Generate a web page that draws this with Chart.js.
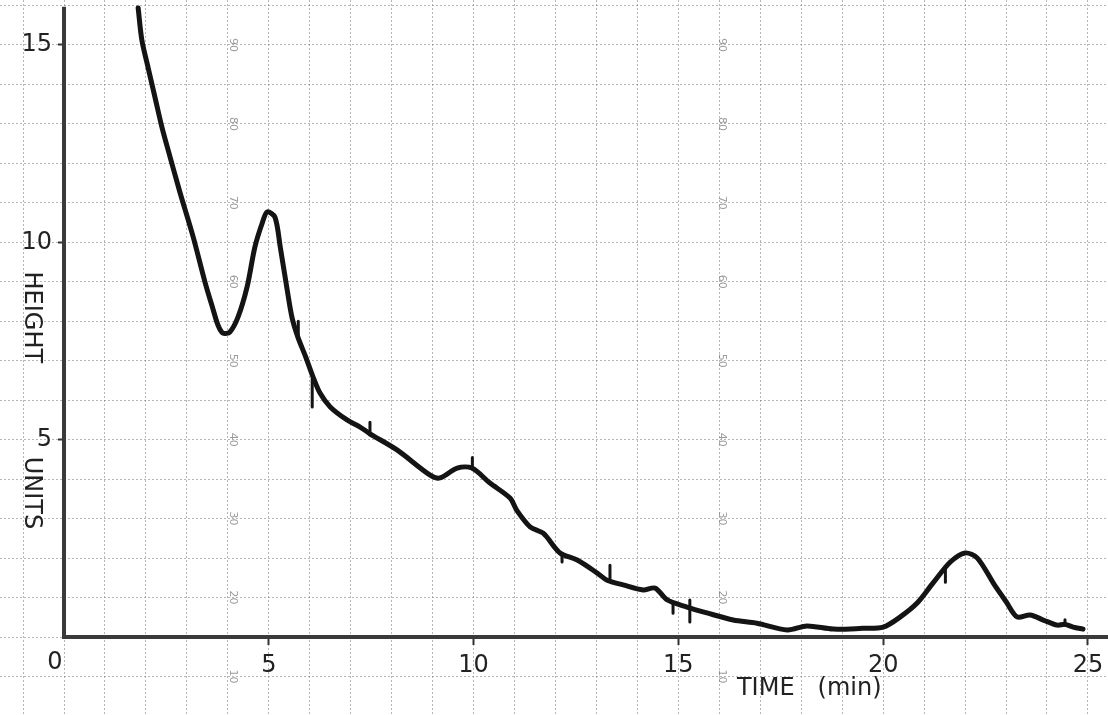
<!DOCTYPE html>
<html><head><meta charset="utf-8">
<script src="https://cdn.jsdelivr.net/npm/chart.js@4.4.1/dist/chart.umd.min.js"></script>
<style>html,body{margin:0;padding:0;background:#fff;overflow:hidden}</style>
</head><body>
<canvas id="c" width="1108" height="715"></canvas>
<script>
// ---- data ----
const timeMin = [1.81,1.90,2.05,2.22,2.39,2.59,2.83,3.15,3.44,3.64,3.76,3.88,4.05,4.25,4.47,4.66,4.84,4.96,5.15,5.28,5.45,5.57,5.71,5.90,6.08,6.25,6.50,6.91,7.23,7.47,8.13,8.94,9.18,9.60,9.96,10.40,10.89,11.06,11.38,11.70,12.11,12.53,13.02,13.26,13.65,14.14,14.43,14.73,15.21,15.70,16.34,16.92,17.66,18.14,18.78,19.50,20.00,20.42,20.83,21.22,21.64,22.00,22.30,22.73,23.00,23.27,23.59,23.91,24.25,24.44,24.64,24.88];
const heightUnits = [15.94,15.13,14.44,13.68,12.92,12.16,11.27,10.15,9.00,8.30,7.90,7.70,7.73,8.11,8.87,9.88,10.49,10.77,10.64,9.88,8.79,8.08,7.60,7.10,6.59,6.18,5.83,5.50,5.32,5.15,4.74,4.10,4.03,4.28,4.28,3.90,3.52,3.20,2.79,2.63,2.13,1.95,1.62,1.44,1.32,1.19,1.24,0.94,0.76,0.61,0.43,0.35,0.18,0.28,0.20,0.22,0.25,0.51,0.86,1.37,1.90,2.13,2.00,1.30,0.90,0.51,0.56,0.43,0.30,0.32,0.25,0.20];
// short pen spikes on the trace: time, lower end, upper end
const spikeTime = [5.72,6.06,7.47,9.97,12.16,13.33,14.87,15.28,21.52,24.44];
const spikeLow  = [7.55,5.83,5.12,4.26,1.90,1.42,0.60,0.38,1.39,0.30];
const spikeHigh = [8.00,6.55,5.44,4.55,2.12,1.82,0.86,0.94,1.77,0.44];
const xTickValues = [0,5,10,15,20,25];
const xTickLabels = ['0','5','10','15','20','25'];
const yTickValues = [5,10,15];
const yTickLabels = ['5','10','15'];
const paperNumbers = ['90','80','70','60','50','40','30','20','10'];
const xTitleParts = ['TIME','(min)'];
const yTitleParts = ['HEIGHT','UNITS'];

// ---- styling ----
const INK = '#222222';
const TRACE = '#141414';
const GRID = 'rgba(110,110,110,0.5)';
const FONT = '"DejaVu Sans", sans-serif';

const points = timeMin.map((t,i)=>({x:t,y:heightUnits[i]}));
const spikes = [];
spikeTime.forEach((t,i)=>{ spikes.push({x:t,y:spikeLow[i]},{x:t,y:spikeHigh[i]},{x:t,y:null}); });

const paperPlugin = {
  id:'paper',
  beforeDraw(chart){
    const {ctx,width,height} = chart;
    ctx.save(); ctx.fillStyle='#ffffff'; ctx.fillRect(0,0,width,height); ctx.restore();
  },
  beforeDatasetsDraw(chart){
    const {ctx} = chart; const xs = chart.scales.x, ys = chart.scales.y;
    ctx.save();
    // faint printed numbers of the graph paper
    ctx.fillStyle='rgba(120,120,120,0.75)';
    ctx.font='11px '+FONT; ctx.textAlign='center'; ctx.textBaseline='middle';
    [4.13,16.07].forEach(col=>{
      paperNumbers.forEach((s,i)=>{
        const px = xs.getPixelForValue(col), py = ys.getPixelForValue(15-2*i);
        ctx.save(); ctx.translate(px,py); ctx.rotate(Math.PI/2); ctx.fillText(s,0,0); ctx.restore();
      });
    });
    // axis lines
    ctx.strokeStyle='#3a3a3a'; ctx.lineWidth=4; ctx.lineCap='butt';
    const x0 = xs.getPixelForValue(0), y0 = ys.getPixelForValue(0);
    ctx.beginPath();
    ctx.moveTo(x0, ys.getPixelForValue(15.97)); ctx.lineTo(x0, y0+2);
    ctx.moveTo(x0-2, y0); ctx.lineTo(chart.width, y0);
    ctx.stroke();
    ctx.restore();
  },
  afterDraw(chart){
    const {ctx} = chart; const xs = chart.scales.x, ys = chart.scales.y;
    ctx.save();
    ctx.fillStyle=INK; ctx.font='24px '+FONT; ctx.textBaseline='middle';
    // x title
    ctx.textAlign='left';
    ctx.fillText(xTitleParts[0], xs.getPixelForValue(16.43), ys.getPixelForValue(-1.3));
    ctx.fillText(xTitleParts[1], xs.getPixelForValue(18.4), ys.getPixelForValue(-1.3));
    // y title, rotated clockwise
    ctx.textAlign='center';
    [[yTitleParts[0],8.1],[yTitleParts[1],3.65]].forEach(([s,v])=>{
      ctx.save(); ctx.translate(xs.getPixelForValue(-0.8), ys.getPixelForValue(v)); ctx.rotate(Math.PI/2);
      ctx.fillText(s,0,0); ctx.restore();
    });
    // origin label
    ctx.fillText(xTickLabels[0], xs.getPixelForValue(-0.22), ys.getPixelForValue(-0.66));
    ctx.restore();
  }
};

const isInt = v => Math.abs(v-Math.round(v))<1e-6;
const noPad = s => { s.paddingTop=0; s.paddingBottom=0; s.paddingLeft=0; s.paddingRight=0; };

new Chart(document.getElementById('c'), {
  type:'line',
  data:{datasets:[
    {data:points, borderColor:TRACE, borderWidth:5, pointRadius:0, tension:0.3,
      borderJoinStyle:'round', borderCapStyle:'round', fill:false},
    {data:spikes, borderColor:TRACE, borderWidth:3, pointRadius:0, tension:0, spanGaps:false,
      borderCapStyle:'round', fill:false}
  ]},
  options:{
    responsive:false, animation:false, devicePixelRatio:1,
    layout:{padding:0},
    plugins:{legend:{display:false}, tooltip:{enabled:false}},
    scales:{
      x:{type:'linear', min:-1.563, max:25.49, position:{y:0}, afterFit:noPad,
        border:{display:false, dash:[2,2]},
        grid:{color:c=>isInt(c.tick.value)?GRID:'transparent', lineWidth:1, drawTicks:true, tickLength:8,
          tickColor:c=>(xTickValues.includes(c.tick.value)&&c.tick.value>0)?'#333':'transparent', tickWidth:2},
        ticks:{stepSize:1, autoSkip:false, maxRotation:0, includeBounds:false, padding:6, color:INK,
          font:{family:FONT,size:24},
          callback:v=>{const i=xTickValues.indexOf(v); return (i>0)?xTickLabels[i]:'';}}
      },
      y:{type:'linear', min:-1.976, max:16.14, position:{x:0}, afterFit:noPad,
        border:{display:false, dash:[2,2]},
        grid:{color:c=>isInt(c.tick.value)?GRID:'transparent', lineWidth:1, drawTicks:true, tickLength:6,
          tickColor:c=>yTickValues.includes(c.tick.value)?'#333':'transparent', tickWidth:2},
        ticks:{stepSize:1, autoSkip:false, includeBounds:false, padding:4, color:INK,
          font:{family:FONT,size:24},
          callback:v=>{const i=yTickValues.indexOf(v); return (i>=0)?yTickLabels[i]+'\u2002':'';}}
      }
    }
  },
  plugins:[paperPlugin]
});
</script>
</body></html>
